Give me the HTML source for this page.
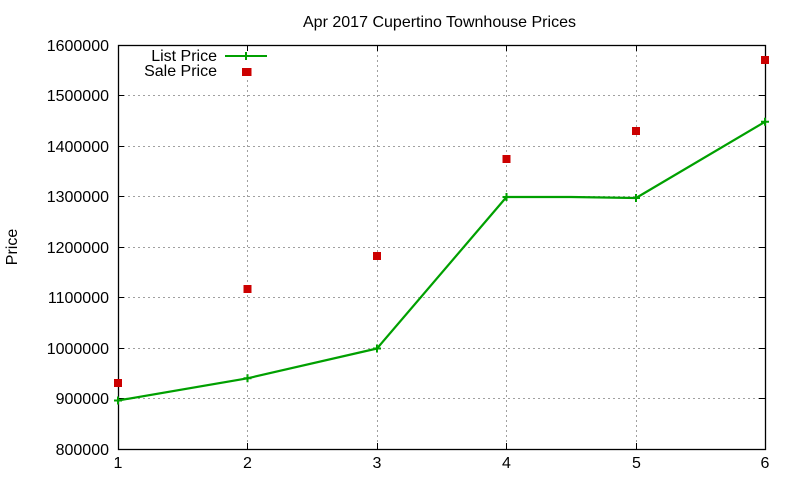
<!DOCTYPE html>
<html>
<head>
<meta charset="utf-8">
<style>
html,body{margin:0;padding:0;background:#fff;}
svg{display:block;}
text{font-family:"Liberation Sans",Arial,sans-serif;font-size:16px;fill:#000;}
</style>
</head>
<body>
<svg width="800" height="480" viewBox="0 0 800 480" xmlns="http://www.w3.org/2000/svg">
<rect width="800" height="480" fill="#fff"/>
<!-- grid -->
<g stroke="#a0a0a0" stroke-width="1" stroke-dasharray="2,3" fill="none">
<line x1="118" y1="95.5" x2="765" y2="95.5"/>
<line x1="118" y1="146.5" x2="765" y2="146.5"/>
<line x1="118" y1="196.5" x2="765" y2="196.5"/>
<line x1="118" y1="247.5" x2="765" y2="247.5"/>
<line x1="118" y1="297.5" x2="765" y2="297.5"/>
<line x1="118" y1="348.5" x2="765" y2="348.5"/>
<line x1="118" y1="398.5" x2="765" y2="398.5"/>
<line x1="247.5" y1="80" x2="247.5" y2="449"/>
<line x1="377.5" y1="45" x2="377.5" y2="449"/>
<line x1="506.5" y1="45" x2="506.5" y2="449"/>
<line x1="636.5" y1="45" x2="636.5" y2="449"/>
</g>
<!-- ticks -->
<g stroke="#000" stroke-width="1">
<line x1="118" y1="95.5" x2="124" y2="95.5"/><line x1="759" y1="95.5" x2="765" y2="95.5"/>
<line x1="118" y1="146.5" x2="124" y2="146.5"/><line x1="759" y1="146.5" x2="765" y2="146.5"/>
<line x1="118" y1="196.5" x2="124" y2="196.5"/><line x1="759" y1="196.5" x2="765" y2="196.5"/>
<line x1="118" y1="247.5" x2="124" y2="247.5"/><line x1="759" y1="247.5" x2="765" y2="247.5"/>
<line x1="118" y1="297.5" x2="124" y2="297.5"/><line x1="759" y1="297.5" x2="765" y2="297.5"/>
<line x1="118" y1="348.5" x2="124" y2="348.5"/><line x1="759" y1="348.5" x2="765" y2="348.5"/>
<line x1="118" y1="398.5" x2="124" y2="398.5"/><line x1="759" y1="398.5" x2="765" y2="398.5"/>
<line x1="247.5" y1="449" x2="247.5" y2="443"/><line x1="247.5" y1="45" x2="247.5" y2="51"/>
<line x1="377.5" y1="449" x2="377.5" y2="443"/><line x1="377.5" y1="45" x2="377.5" y2="51"/>
<line x1="506.5" y1="449" x2="506.5" y2="443"/><line x1="506.5" y1="45" x2="506.5" y2="51"/>
<line x1="636.5" y1="449" x2="636.5" y2="443"/><line x1="636.5" y1="45" x2="636.5" y2="51"/>
</g>
<!-- frame -->
<rect x="118.5" y="45.5" width="647" height="404" fill="none" stroke="#000" stroke-width="1.3"/>
<!-- y labels -->
<g text-anchor="end">
<text x="109" y="51">1600000</text>
<text x="109" y="101">1500000</text>
<text x="109" y="152">1400000</text>
<text x="109" y="202">1300000</text>
<text x="109" y="253">1200000</text>
<text x="109" y="303">1100000</text>
<text x="109" y="354">1000000</text>
<text x="109" y="404">900000</text>
<text x="109" y="455">800000</text>
</g>
<!-- x labels -->
<g text-anchor="middle">
<text x="118" y="468">1</text>
<text x="247.5" y="468">2</text>
<text x="377" y="468">3</text>
<text x="506.5" y="468">4</text>
<text x="636.5" y="468">5</text>
<text x="765" y="468">6</text>
</g>
<text x="439.5" y="27" text-anchor="middle" textLength="273" lengthAdjust="spacingAndGlyphs">Apr 2017 Cupertino Townhouse Prices</text>
<text transform="translate(17,247) rotate(-90)" text-anchor="middle">Price</text>
<!-- legend -->
<text x="217" y="61" text-anchor="end">List Price</text>
<text x="217" y="76" text-anchor="end">Sale Price</text>
<line x1="225" y1="56" x2="267" y2="56" stroke="#00a000" stroke-width="2"/>
<g stroke="#00a000" stroke-width="2">
<line x1="246" y1="52" x2="246" y2="60"/>
</g>
<rect x="242" y="68" width="8" height="8" fill="#cc0000"/>
<!-- list price series -->
<polyline points="118,400.5 247.5,378.3 377,348.5 506.5,197 571,197 636,198 765,121.8" fill="none" stroke="#00a000" stroke-width="2.2" stroke-linejoin="round"/>
<g stroke="#00a000" stroke-width="2">
<path d="M114,400.5h8M118,396.5v8"/>
<path d="M243.5,378.3h8M247.5,374.3v8"/>
<path d="M373,348.5h8M377,344.5v8"/>
<path d="M502.5,197h8M506.5,193v8"/>
<path d="M632,198h8M636,194v8"/>
<path d="M761,121.8h8M765,117.8v8"/>
</g>
<!-- sale price points -->
<g fill="#cc0000">
<rect x="114" y="379" width="8" height="8"/>
<rect x="243.5" y="285" width="8" height="8"/>
<rect x="243.5" y="68" width="8" height="8"/>
<rect x="373" y="252" width="8" height="8"/>
<rect x="502.5" y="155" width="8" height="8"/>
<rect x="632" y="127" width="8" height="8"/>
<rect x="761" y="56" width="8" height="8"/>
</g>
</svg>
</body>
</html>
